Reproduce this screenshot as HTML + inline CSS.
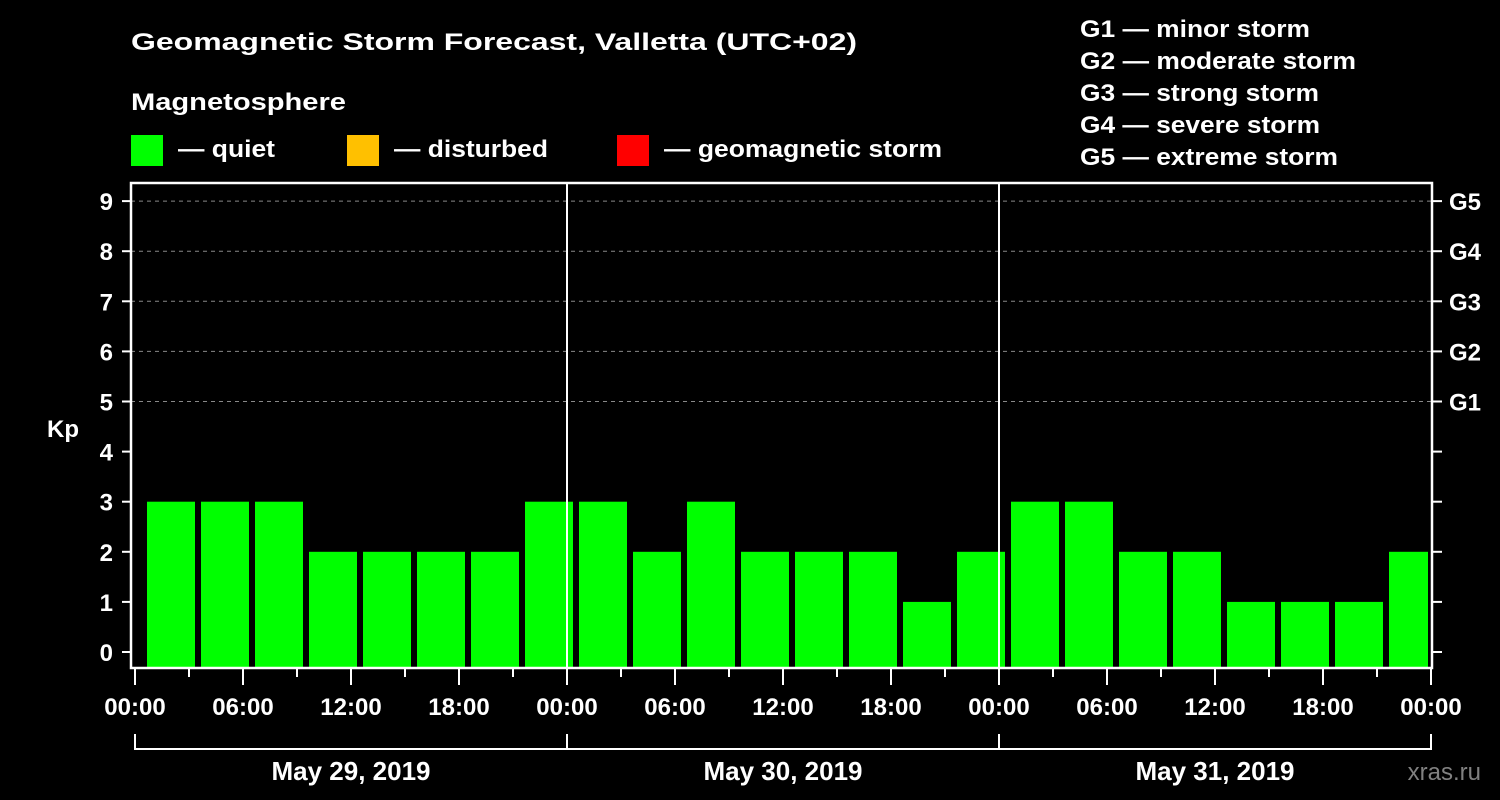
<!DOCTYPE html>
<html><head><meta charset="utf-8"><style>
html,body{margin:0;padding:0;background:#000;}
svg{display:block;font-family:"Liberation Sans",Arial,sans-serif;font-weight:bold;}
</style></head><body>
<svg id="chart" width="1500" height="800" viewBox="0 0 1500 800">
<rect width="1500" height="800" fill="#000"/>
<text x="131" y="50" font-size="24" fill="#fff" textLength="726" lengthAdjust="spacingAndGlyphs">Geomagnetic Storm Forecast, Valletta (UTC+02)</text>
<text x="131" y="110" font-size="24" fill="#fff" textLength="215" lengthAdjust="spacingAndGlyphs">Magnetosphere</text>
<g>
<rect x="131" y="135" width="32" height="31" fill="#00ff00"/>
<text x="178" y="157" font-size="24" fill="#fff" textLength="97" lengthAdjust="spacingAndGlyphs">— quiet</text></g>
<g>
<rect x="347" y="135" width="32" height="31" fill="#ffc000"/>
<text x="394" y="157" font-size="24" fill="#fff" textLength="154" lengthAdjust="spacingAndGlyphs">— disturbed</text></g>
<g>
<rect x="617" y="135" width="32" height="31" fill="#ff0000"/>
<text x="664" y="157" font-size="24" fill="#fff" textLength="278" lengthAdjust="spacingAndGlyphs">— geomagnetic storm</text></g>
<g font-size="24" fill="#fff">
<text x="1080" y="37" textLength="230" lengthAdjust="spacingAndGlyphs">G1 — minor storm</text>
<text x="1080" y="69" textLength="276" lengthAdjust="spacingAndGlyphs">G2 — moderate storm</text>
<text x="1080" y="101" textLength="239" lengthAdjust="spacingAndGlyphs">G3 — strong storm</text>
<text x="1080" y="133" textLength="240" lengthAdjust="spacingAndGlyphs">G4 — severe storm</text>
<text x="1080" y="165" textLength="258" lengthAdjust="spacingAndGlyphs">G5 — extreme storm</text>
</g>
<text x="63" y="437" font-size="24" fill="#fff" text-anchor="middle">Kp</text>
<text x="1481" y="780" font-size="24" fill="#808080" text-anchor="end" font-weight="normal">xras.ru</text>
<g id="plot"></g>
</svg>
<script>
const kpValues = [3,3,3,2,2,2,2,3, 3,2,3,2,2,2,1,2, 3,3,2,2,1,1,1,2,2];
const yTicks = [0,1,2,3,4,5,6,7,8,9];
const gLabels = ["G1","G2","G3","G4","G5"];
const gLevels = [5,6,7,8,9];
const xTickLabels = ["00:00","06:00","12:00","18:00","00:00","06:00","12:00","18:00","00:00","06:00","12:00","18:00","00:00"];
const dateLabels = ["May 29, 2019","May 30, 2019","May 31, 2019"];

const NS="http://www.w3.org/2000/svg";
const plot=document.getElementById('plot');
const L=131,R=1432,T=183,B=668;
const x0=135, hourPx=18; // 432px per day
const xScale=h=>x0+h*hourPx;
const yScale=v=>652-v*50.1;
function mk(tag,attrs,parent){const e=document.createElementNS(NS,tag);for(const k in attrs)e.setAttribute(k,attrs[k]);(parent||plot).appendChild(e);return e;}

// grid
gLevels.forEach(v=>{
  const g=mk('line',{x1:L,x2:R,y1:yScale(v),y2:yScale(v),stroke:'#888','stroke-width':1,'stroke-dasharray':'4,4'});
  
  
});
// clip
const defs=mk('defs',{});
const cp=mk('clipPath',{id:'clip'},defs);
mk('rect',{x:137,y:T,width:1428-137,height:B-T},cp);
const barsG=mk('g',{'clip-path':'url(#clip)'});
kpValues.forEach((v,i)=>{
  const cx=xScale(i*3+1.5)+9;
  const b=mk('rect',{x:cx-24,y:yScale(v),width:48,height:667-yScale(v),fill:'#00ff00'},barsG);
  
  
});
// day separators
[24,48].forEach(h=>{
  const l=mk('line',{x1:xScale(h),x2:xScale(h),y1:T,y2:B,stroke:'#fff','stroke-width':2});
  
  
});
// frame
const fr=mk('rect',{x:L,y:T,width:R-L,height:B-T,fill:'none',stroke:'#fff','stroke-width':2.5});


// y ticks
yTicks.forEach(v=>{
  const y=yScale(v);
  mk('line',{x1:122,x2:L,y1:y,y2:y,stroke:'#fff','stroke-width':2});
  mk('line',{x1:R,x2:1442,y1:y,y2:y,stroke:'#fff','stroke-width':2});
  const t=mk('text',{x:113,y:y+9,'font-size':24,fill:'#fff','text-anchor':'end'});
  t.textContent=v;
  
  
});
gLabels.forEach((s,i)=>{
  const t=mk('text',{x:1449,y:yScale(gLevels[i])+9,'font-size':24,fill:'#fff'});
  t.textContent=s;
  
  
});
// x ticks
for(let h=0;h<=72;h+=3){
  const major=h%6===0;
  mk('line',{x1:xScale(h),x2:xScale(h),y1:B,y2:major?685:677,stroke:'#fff','stroke-width':2});
}
xTickLabels.forEach((s,i)=>{
  const t=mk('text',{x:xScale(i*6),y:715,'font-size':24,fill:'#fff','text-anchor':'middle'});
  t.textContent=s;
  
  
});
// date bracket
mk('line',{x1:xScale(0),x2:xScale(72),y1:749,y2:749,stroke:'#fff','stroke-width':2});
for(let d=0;d<=3;d++) mk('line',{x1:xScale(d*24),x2:xScale(d*24),y1:734,y2:750,stroke:'#fff','stroke-width':2});
dateLabels.forEach((s,i)=>{
  const t=mk('text',{x:xScale(i*24+12),y:780,'font-size':26,fill:'#fff','text-anchor':'middle'});
  t.textContent=s;
  
  
});
</script>
</body></html>
